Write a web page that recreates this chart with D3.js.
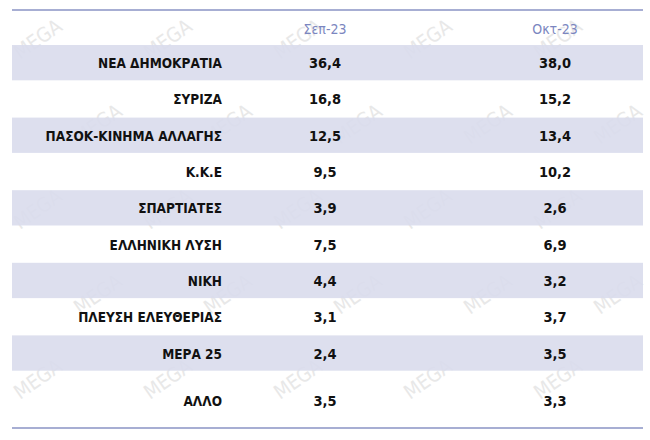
<!DOCTYPE html><html><head><meta charset="utf-8"><script src="https://d3js.org/d3.v7.min.js"></script>
<style>body{margin:0;background:#fff}</style></head><body><svg id="c" width="650" height="440"></svg><script>
const categories=["ΝΕΑ  ΔΗΜΟΚΡΑΤΙΑ","ΣΥΡΙΖΑ","ΠΑΣΟΚ-ΚΙΝΗΜΑ  ΑΛΛΑΓΗΣ","Κ.Κ.Ε","ΣΠΑΡΤΙΑΤΕΣ","ΕΛΛΗΝΙΚΗ  ΛΥΣΗ","ΝΙΚΗ","ΠΛΕΥΣΗ ΕΛΕΥΘΕΡΙΑΣ","ΜΕΡΑ 25","ΑΛΛΟ"];
const columns=["Σεπ-23","Οκτ-23"];
const sep23=["36,4","16,8","12,5","9,5","3,9","7,5","4,4","3,1","2,4","3,5"];
const oct23=["38,0","15,2","13,4","10,2","2,6","6,9","3,2","3,7","3,5","3,3"];
const svg=d3.select("#c");
const font="'DejaVu Sans Condensed','DejaVu Sans',sans-serif";
const wm=svg.append("g");
for(let r=0;r<5;r++)for(let c=0;c<5;c++){wm.append("text").attr("transform",`translate(${c*130+(r%2)*60+20},${r*85+60}) rotate(-35)`).text("MEGA").attr("font-family",font).attr("font-size",20).attr("fill","#e8e8e8");}
const y=d3.scaleBand().domain(d3.range(10)).range([45,408]);
const x=d3.scaleOrdinal().domain(columns).range([325,555]);
svg.selectAll("rect.b").data(d3.range(10).filter(i=>i%2==0)).join("rect").attr("x",12).attr("width",631).attr("y",i=>y(i)).attr("height",y.bandwidth()-1).attr("fill","#d9dcec").attr("opacity",0.9);
svg.append("line").attr("x1",12).attr("x2",643).attr("y1",10).attr("y2",10).attr("stroke","#8a93c4").attr("stroke-width",1.5);
svg.append("line").attr("x1",12).attr("x2",643).attr("y1",428).attr("y2",428).attr("stroke","#8a93c4").attr("stroke-width",1.5);
svg.selectAll("text.h").data(columns).join("text").attr("x",d=>x(d)).attr("y",34).attr("text-anchor","middle").text(d=>d).attr("font-family",font).attr("font-size",14).attr("fill","#7b86c0");
const cy=i=>i==9?406:y(i)+y.bandwidth()/2+5;
const g=svg.append("g").attr("font-family",font).attr("font-size",13.5).attr("font-weight","bold").attr("fill","#111");
g.selectAll("text.l").data(categories).join("text").attr("x",222).attr("y",(d,i)=>cy(i)).attr("text-anchor","end").text(d=>d);
[sep23,oct23].forEach((arr,k)=>g.selectAll("text.v"+k).data(arr).join("text").attr("x",x(columns[k])).attr("y",(d,i)=>cy(i)).attr("text-anchor","middle").text(d=>d).attr("font-size",14.5));
</script></body></html>
